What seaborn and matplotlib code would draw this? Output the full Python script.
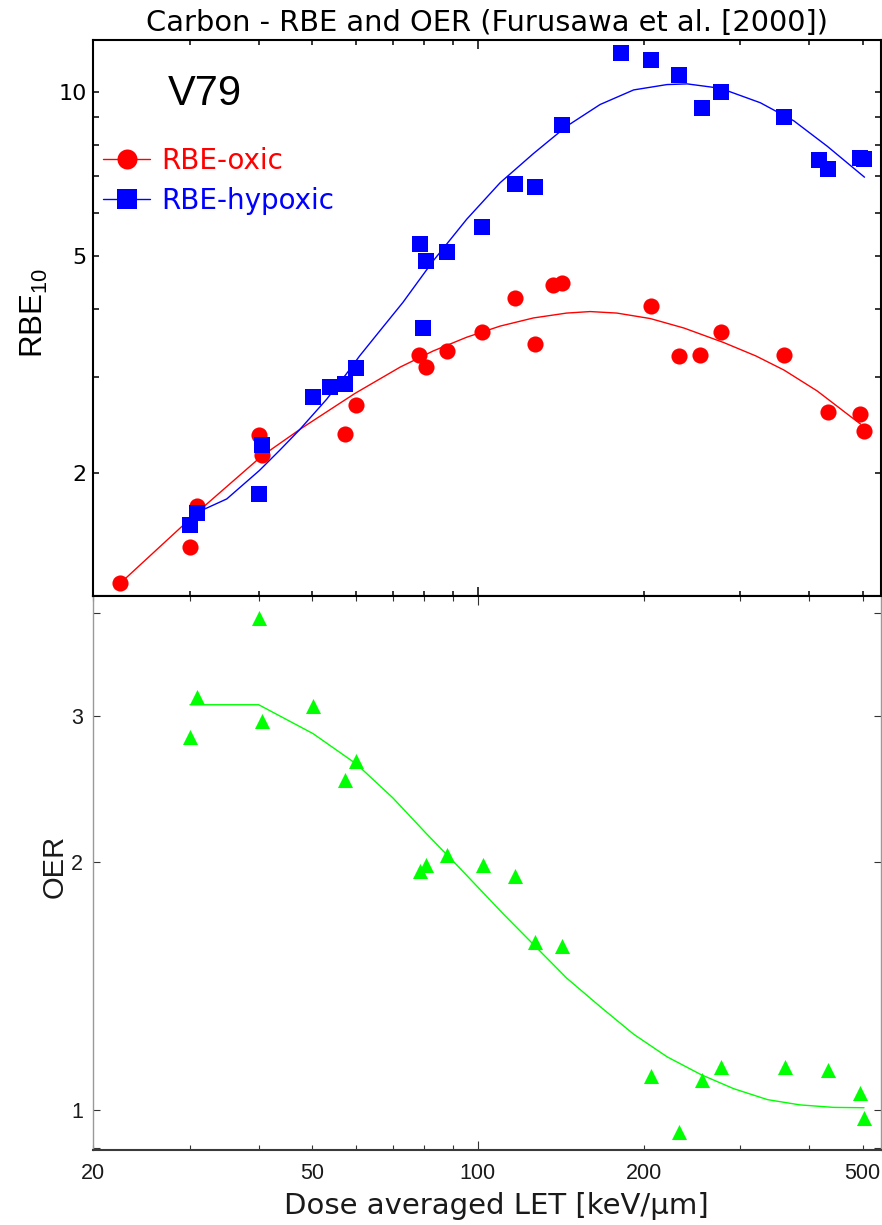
import matplotlib
matplotlib.use("Agg")
import matplotlib.pyplot as plt
from matplotlib.lines import Line2D
from matplotlib.ticker import FixedLocator, FuncFormatter, NullFormatter
import seaborn as sns

# ---- measured points, V79 cells, carbon ions (LET in keV/um) ----
let_oxic = [22.4, 30.0, 30.9, 40.0, 40.5, 57.5, 60.0, 78.3, 80.4, 87.8, 101.8,
            116.9, 127.1, 136.9, 142.3, 206.5, 232.3, 252.9, 276.6, 360.5,
            432.5, 493.6, 502.9]
rbe_oxic = [1.257, 1.466, 1.740, 2.347, 2.157, 2.358, 2.666, 3.299, 3.126, 3.355,
            3.634, 4.182, 3.453, 4.432, 4.453, 4.044, 3.273, 3.289, 3.634, 3.289,
            2.589, 2.573, 2.390]

let_hypoxic = [30.0, 30.9, 40.0, 40.5, 50.2, 54.0, 57.5, 60.0, 78.5, 79.6, 80.4,
               87.8, 101.8, 116.9, 127.1, 142.3, 182.2, 206.5, 232.3, 255.7,
               276.6, 360.5, 417.5, 433.2, 493.6, 502.9]
rbe_hypoxic = [1.607, 1.694, 1.836, 2.252, 2.758, 2.877, 2.909, 3.115, 5.248, 3.688,
               4.898, 5.090, 5.655, 6.761, 6.697, 8.703, 11.79, 11.43, 10.74, 9.34,
               9.99, 9.00, 7.50, 7.20, 7.56, 7.53]

let_oer = [30.0, 30.9, 40.0, 40.5, 50.2, 57.5, 60.0, 78.4, 80.6, 87.9, 102.0,
           116.9, 127.2, 142.2, 206.3, 232.3, 255.6, 276.3, 360.9, 432.6, 493.7,
           503.0]
oer = [2.83, 3.17, 3.95, 2.96, 3.09, 2.51, 2.65, 1.95, 1.98, 2.04, 1.98, 1.92,
       1.60, 1.58, 1.10, 0.939, 1.088, 1.128, 1.128, 1.117, 1.048, 0.978]

# ---- trend curves ----
trend_oxic_let = [22.4, 30.8, 40.5, 47.9, 59.8, 72.3, 83.0, 95.5, 109.8, 126.2,
                  145.0, 160.0, 178.9, 205.8, 236.8, 279.8, 320.0, 360.0, 413.5,
                  475.6, 496.0]
trend_oxic = [1.257, 1.69, 2.15, 2.42, 2.80, 3.13, 3.35, 3.55, 3.72, 3.85,
              3.93, 3.955, 3.93, 3.84, 3.69, 3.47, 3.28, 3.09, 2.83,
              2.54, 2.46]

trend_hypoxic_let = [31.1, 35.0, 40.1, 43.6, 47.4, 53.1, 57.7, 61.0, 66.3, 73.1,
                     83.0, 95.5, 109.8, 126.2, 145.0, 166.8, 191.9, 220.6, 240.0,
                     275.9, 326.0, 375.0, 431.4, 504.0]
trend_hypoxic = [1.70, 1.795, 2.023, 2.20, 2.40, 2.73, 3.04, 3.28, 3.64, 4.11,
                 4.90, 5.84, 6.81, 7.70, 8.64, 9.47, 10.07, 10.30, 10.33,
                 10.14, 9.54, 8.84, 7.94, 6.97]

trend_oer_let = [30.0, 40.0, 50.2, 60.2, 70.1, 80.6, 92.7, 111.2, 145.0, 166.9,
                 192.0, 220.6, 254.0, 291.6, 336.0, 385.0, 443.0, 503.0]
trend_oer = [3.10, 3.10, 2.86, 2.627, 2.39, 2.164, 1.965, 1.729, 1.445, 1.334,
             1.235, 1.16, 1.104, 1.061, 1.029, 1.014, 1.007, 1.006]

# ---- tick positions and labels ----
let_minor = [20, 30, 40, 50, 60, 70, 80, 90, 200, 300, 400, 500]
let_labelled = [20, 50, 100, 200, 500]
rbe_major = [2, 5, 10]
rbe_minor = [3, 4, 6, 7, 8, 9]
oer_major = [1, 2, 3]
oer_minor = [0.9, 4]

title = "Carbon - RBE and OER (Furusawa et al. [2000])"
cell_line = "V79"
xlabel = "Dose averaged LET [keV/\u00b5m]"

sns.set_theme(style="white")
plt.rcParams["font.family"] = ["DejaVu Sans"]
liber = ["Liberation Sans", "DejaVu Sans"]

fig = plt.figure(figsize=(8.82, 12.25), dpi=100)
ax1 = fig.add_axes([0.10544, 0.51347, 0.89342, 0.45388])
ax2 = fig.add_axes([0.10544, 0.06122, 0.89342, 0.45224])

for ax in (ax1, ax2):
    ax.set_xscale("log")
    ax.set_yscale("log")
    ax.set_xlim(20, 540)

ax1.set_ylim(1.192, 12.43)
ax2.set_ylim(0.894, 4.2)

# ---- upper panel: RBE ----
sns.lineplot(x=trend_oxic_let, y=trend_oxic, ax=ax1, color="#ff0000", lw=1.0,
             sort=False, estimator=None, zorder=2)
sns.lineplot(x=trend_hypoxic_let, y=trend_hypoxic, ax=ax1, color="#0000ff", lw=1.0,
             sort=False, estimator=None, zorder=2)
sns.scatterplot(x=let_oxic, y=rbe_oxic, ax=ax1, color="#ff0000", marker="o",
                s=135, linewidth=0, legend=False, zorder=3)
sns.scatterplot(x=let_hypoxic, y=rbe_hypoxic, ax=ax1, color="#0000ff", marker="s",
                s=135, linewidth=0, legend=False, zorder=4)

handles = [
    Line2D([], [], color="#ff0000", lw=1.0, marker="o", markersize=14.4,
           markeredgewidth=0),
    Line2D([], [], color="#0000ff", lw=1.0, marker="s", markersize=14.4,
           markeredgewidth=0),
]
ax1.legend(handles, ["RBE-oxic", "RBE-hypoxic"], loc="upper left",
           bbox_to_anchor=(0.0127, 0.808), frameon=False, fontsize=20,
           handlelength=1.7, handletextpad=0.4, labelspacing=0.43,
           borderaxespad=0, borderpad=0, labelcolor="linecolor")

ax1.text(0.0952, 0.8831, cell_line, transform=ax1.transAxes, fontsize=30,
         family=liber, ha="left", va="baseline", color="black")
ax1.set_title(title, fontsize=20.8, pad=6.5, color="black")

ax1.xaxis.set_major_locator(FixedLocator([100]))
ax1.xaxis.set_minor_locator(FixedLocator(let_minor))
ax1.xaxis.set_major_formatter(NullFormatter())
ax1.xaxis.set_minor_formatter(NullFormatter())
ax1.yaxis.set_major_locator(FixedLocator(rbe_major))
ax1.yaxis.set_minor_locator(FixedLocator(rbe_minor))
ax1.yaxis.set_major_formatter(FuncFormatter(lambda v, p: f"{v:g}"))
ax1.yaxis.set_minor_formatter(NullFormatter())
ax1.tick_params(which="both", direction="in", top=True, bottom=True, left=True,
                right=True, color="black", width=1.1, labelbottom=False)
ax1.tick_params(axis="x", which="major", length=6.5)
ax1.tick_params(axis="x", which="minor", length=3.6)
ax1.tick_params(axis="y", which="both", length=4.3, labelsize=16, pad=4.5,
                labelcolor="black")
for sp in ax1.spines.values():
    sp.set_color("black")
    sp.set_linewidth(1.5)

fig.text(43 / 882, 1 - 312.5 / 1225, r"RBE$_{\mathregular{10}}$", rotation=90,
         rotation_mode="anchor", ha="center", va="baseline", fontsize=22.5,
         family=liber, color="black")

# ---- lower panel: OER ----
sns.lineplot(x=trend_oer_let, y=trend_oer, ax=ax2, color="#00ff00", lw=1.0,
             sort=False, estimator=None, zorder=2)
sns.scatterplot(x=let_oer, y=oer, ax=ax2, color="#00ff00", marker="^",
                s=118, linewidth=0, legend=False, zorder=3)

ax2.xaxis.set_major_locator(FixedLocator([100]))
ax2.xaxis.set_minor_locator(FixedLocator(let_minor))
ax2.xaxis.set_major_formatter(FuncFormatter(lambda v, p: f"{v:g}"))
ax2.xaxis.set_minor_formatter(
    FuncFormatter(lambda v, p: f"{v:g}" if round(v) in let_labelled else ""))
ax2.yaxis.set_major_locator(FixedLocator(oer_major))
ax2.yaxis.set_minor_locator(FixedLocator(oer_minor))
ax2.yaxis.set_major_formatter(FuncFormatter(lambda v, p: f"{v:g}"))
ax2.yaxis.set_minor_formatter(NullFormatter())
ax2.tick_params(which="both", direction="in", top=True, bottom=True, left=True,
                right=True, color="#333333", width=0.8,
                labelfontfamily="Liberation Sans", labelcolor="#1a1a1a")
ax2.tick_params(axis="x", which="major", length=6.5, labelsize=15.5, pad=9)
ax2.tick_params(axis="x", which="minor", length=3.6, labelsize=15.5, pad=9)
ax2.tick_params(axis="y", which="both", length=5, labelsize=15.5, pad=7)
ax2.spines["top"].set_color("black")
ax2.spines["top"].set_linewidth(1.5)
ax2.spines["left"].set_color("#999999")
ax2.spines["left"].set_linewidth(1.0)
ax2.spines["right"].set_color("#999999")
ax2.spines["right"].set_linewidth(1.0)
ax2.spines["bottom"].set_color("#3a3a3a")
ax2.spines["bottom"].set_linewidth(1.5)

ax2.set_xlabel(xlabel, fontsize=21, color="#1a1a1a")
ax2.xaxis.set_label_coords((496 - 93) / 788, -0.0758)

fig.text(63 / 882, 1 - 866.5 / 1225, "OER", rotation=90, rotation_mode="anchor",
         ha="center", va="baseline", fontsize=21, family=liber, color="#1a1a1a")

fig.savefig("out.png", dpi=100)
